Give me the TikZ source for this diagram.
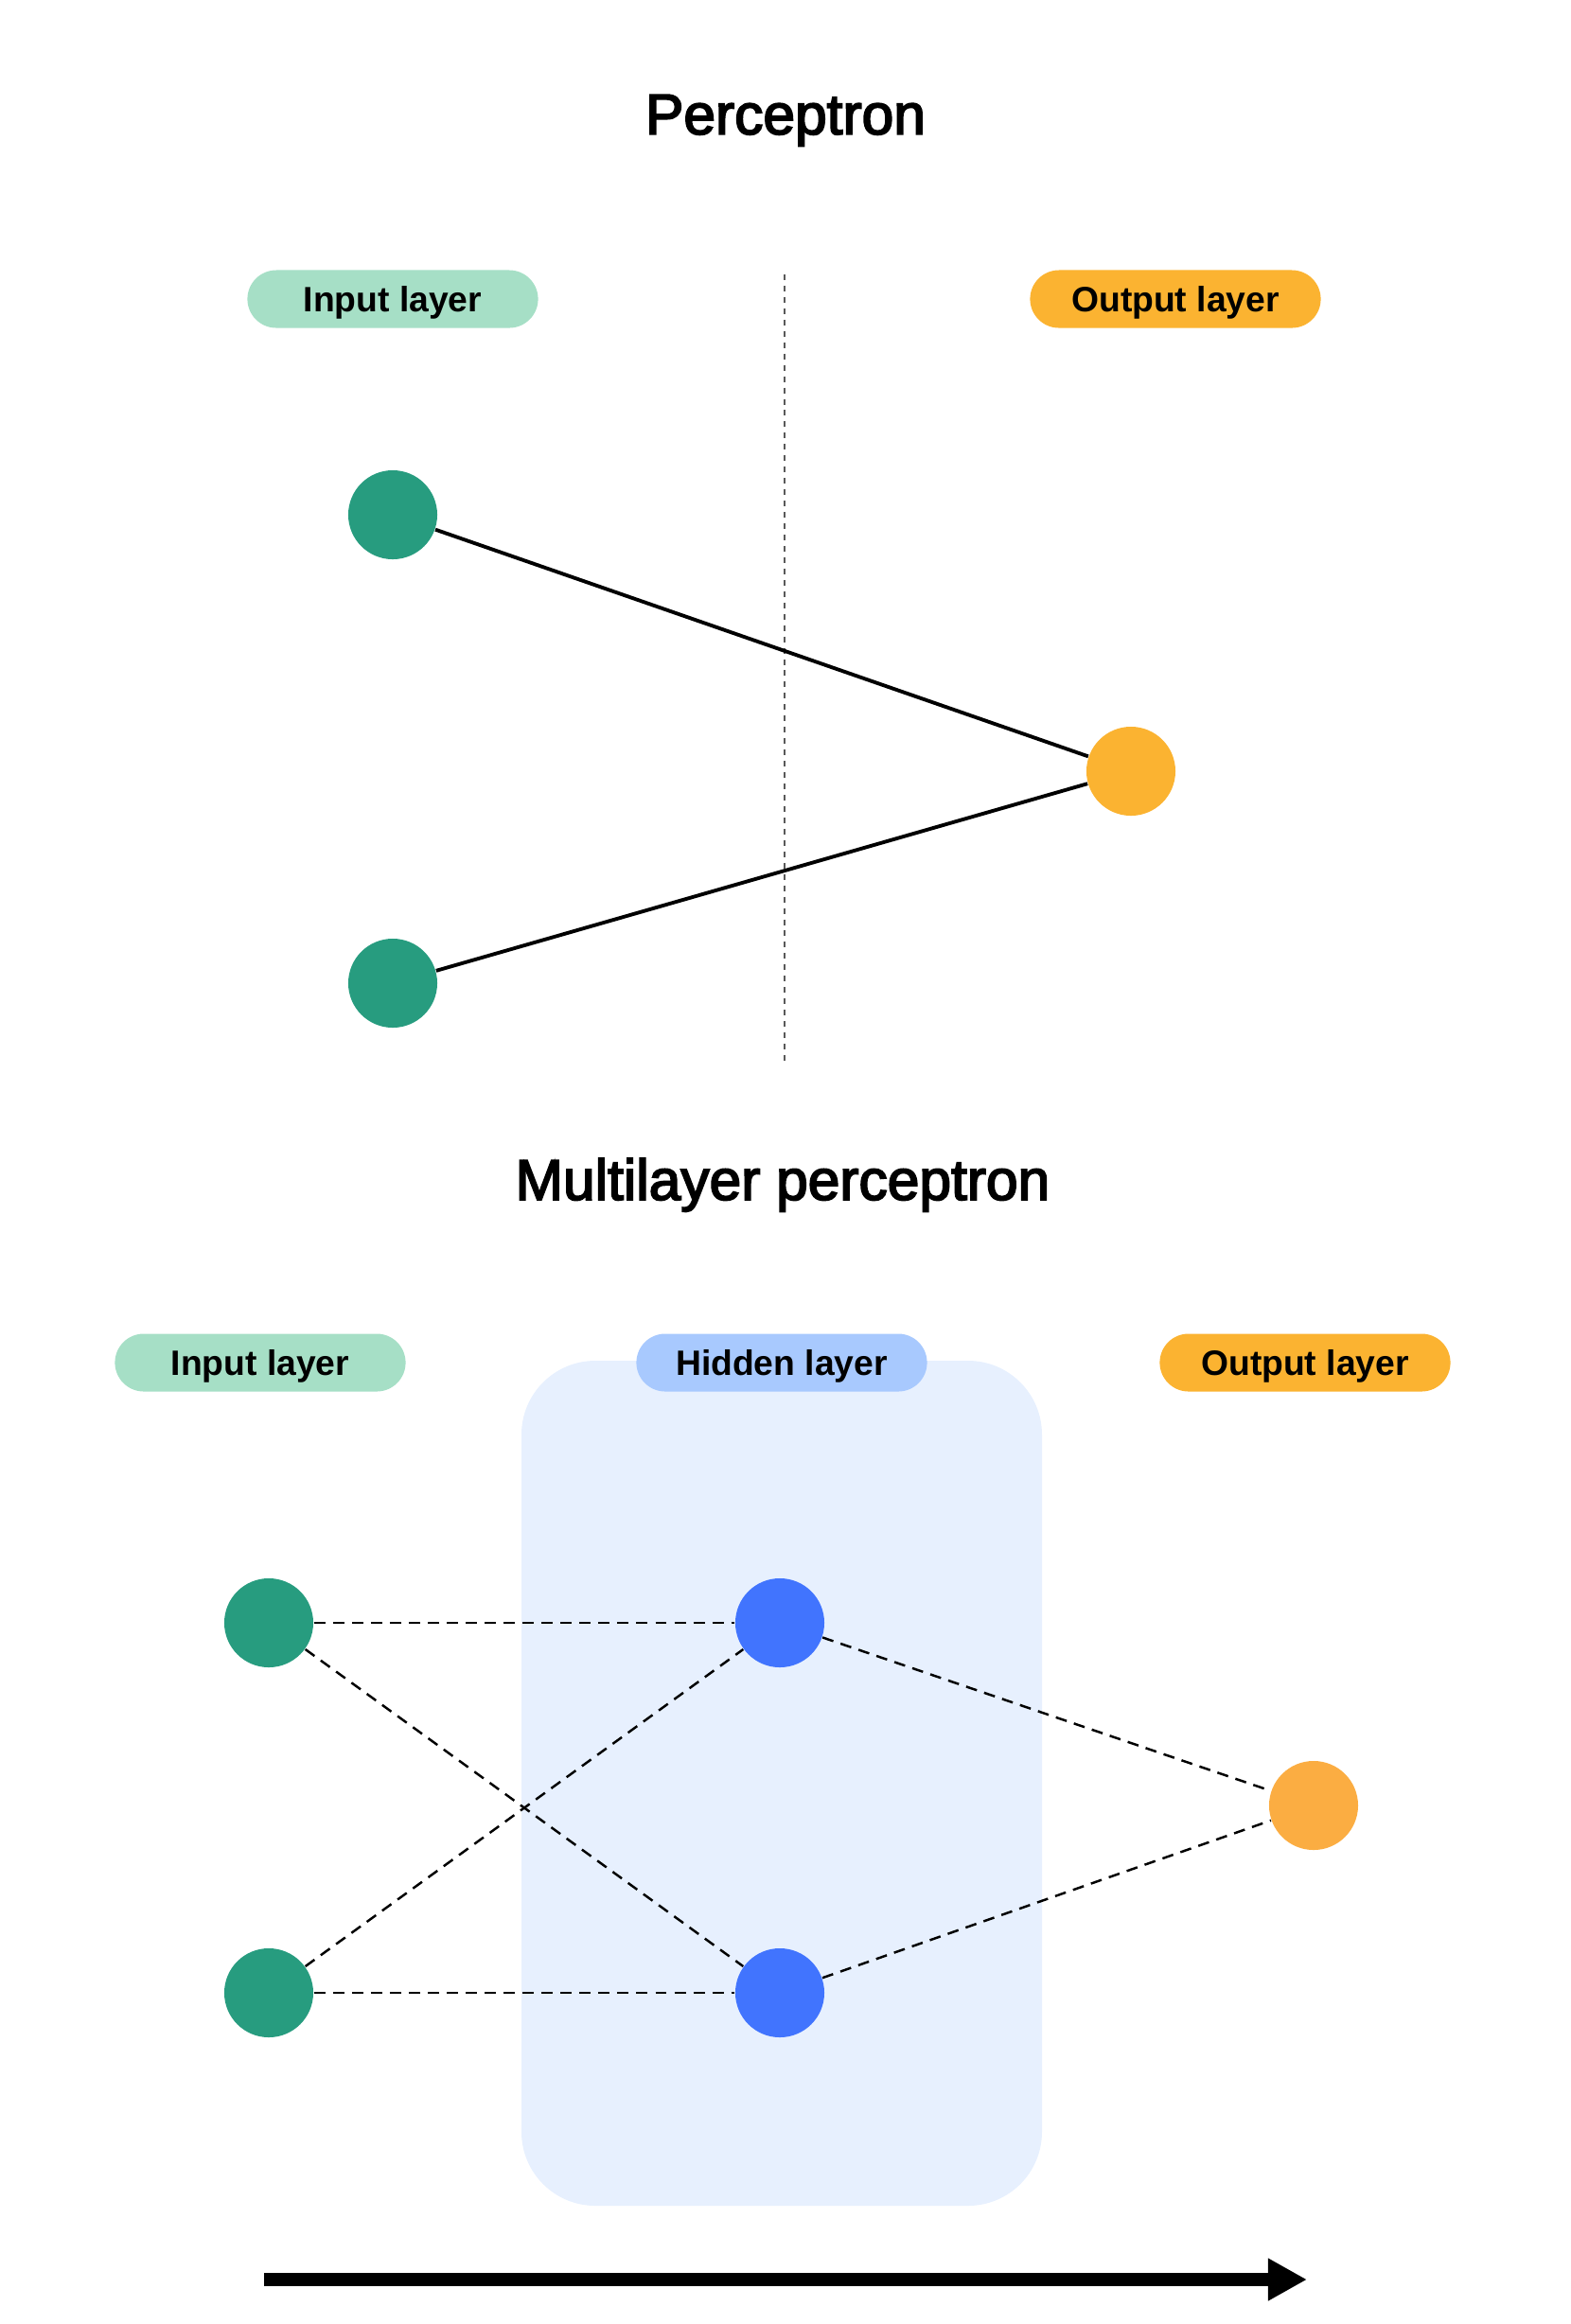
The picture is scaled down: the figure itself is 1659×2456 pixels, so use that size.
\documentclass[tikz,border=0pt]{standalone}
\usepackage{fontspec}
\setmainfont{Liberation Sans}
\newfontfamily\titlefont[FakeBold=3]{Liberation Sans}
\usetikzlibrary{arrows.meta}

\definecolor{inpill}{HTML}{A6DFC6}
\definecolor{outpill}{HTML}{FBB331}
\definecolor{hidpill}{HTML}{A8C9FE}
\definecolor{hidbox}{HTML}{E7F0FE}
\definecolor{innode}{HTML}{279C7F}
\definecolor{hidnode}{HTML}{4174FE}
\definecolor{outnode}{HTML}{FBB331}
\definecolor{outnodeb}{HTML}{FBAD42}

\begin{document}
\begin{tikzpicture}[x=0.01cm,y=-0.01cm,
  title/.style={text depth=0pt,font=\titlefont\fontsize{17.2}{20}\selectfont},
  pill/.style={rounded corners=0.305cm,minimum width=3.07cm,minimum height=0.61cm,inner sep=0pt,text depth=0pt,font=\fontsize{10.6}{12}\selectfont\bfseries},
  neuron/.style={circle,minimum size=0.94cm,inner sep=0pt},
  link/.style={black,line width=1.1pt},
  mlplink/.style={black,line width=0.7pt,dash pattern=on 3.4pt off 2.3pt}]
\useasboundingbox (0,0) rectangle (1659,2456);

\node[title] (ptitle) at (830,121) {Perceptron};
\node[pill,fill=inpill] (pin) at (415,316) {Input layer};
\node[pill,fill=outpill] (pout) at (1242,316) {Output layer};
\coordinate (sepa) at (829,290);
\coordinate (sepb) at (829,1125);
\draw[black!65,line width=0.7pt,dash pattern=on 1.7pt off 1.7pt] (sepa) -- (sepb);
\node[neuron,fill=innode] (p1) at (415,544) {};
\node[neuron,fill=innode] (p2) at (415,1039) {};
\node[neuron,fill=outnode] (po) at (1195,815) {};
\draw[link] (p1) -- (po);
\draw[link] (p2) -- (po);

\node[title] (mtitle) at (827,1246) {Multilayer perceptron};
\fill[hidbox,rounded corners=0.78cm] (551,1438) rectangle (1101,2331);
\node[pill,fill=inpill] (min) at (275,1440) {Input layer};
\node[pill,fill=hidpill] (mhid) at (826,1440) {Hidden layer};
\node[pill,fill=outpill] (mout) at (1379,1440) {Output layer};
\node[neuron,fill=innode] (i1) at (284,1715) {};
\node[neuron,fill=innode] (i2) at (284,2106) {};
\node[neuron,fill=hidnode] (h1) at (824,1715) {};
\node[neuron,fill=hidnode] (h2) at (824,2106) {};
\node[neuron,fill=outnodeb] (o) at (1388,1908) {};
\foreach \a in {i1,i2}
  \foreach \b in {h1,h2}
    \draw[mlplink] (\a) -- (\b);
\draw[mlplink] (h1) -- (o);
\draw[mlplink] (h2) -- (o);

\coordinate (flowa) at (279,2409);
\coordinate (flowb) at (1381,2409);
\draw[line width=0.14cm,-{Triangle[length=0.41cm,width=0.42cm]}] (flowa) -- (flowb);
\end{tikzpicture}
\end{document}
